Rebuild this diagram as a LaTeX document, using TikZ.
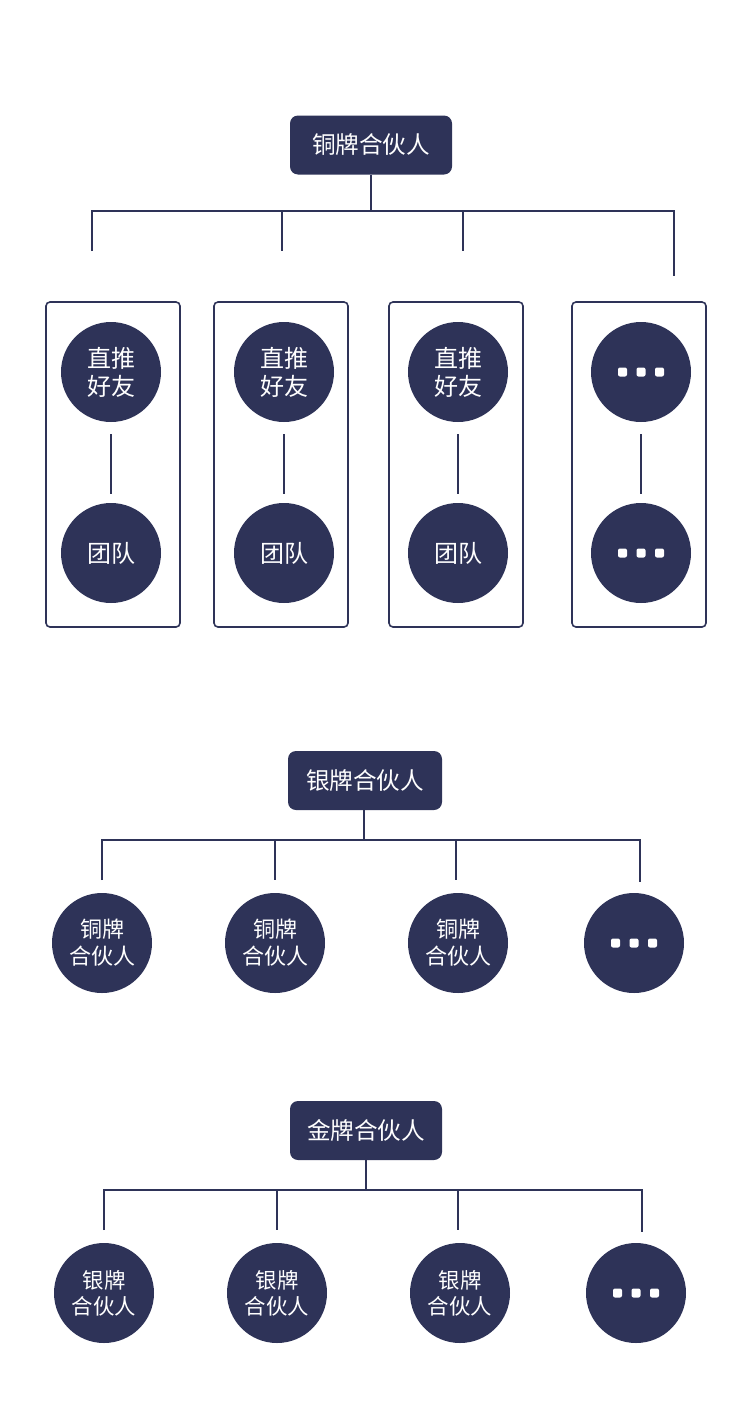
\documentclass[tikz,border=0pt]{standalone}
\usepackage{fontspec}
\newfontfamily\cjk{Noto Sans CJK SC}
\definecolor{navy}{HTML}{2E3358}
\tikzset{
  hdr/.style={fill=navy, rounded corners=8pt, text=white, inner sep=0pt,
    font=\cjk\fontsize{23.6}{28}\selectfont, minimum height=59pt},
  circ/.style={circle, fill=navy, minimum size=100pt, inner sep=0pt, text=white, align=center},
  big/.style={font=\cjk\fontsize{24}{28}\selectfont},
  mid/.style={font=\cjk\fontsize{22}{27}\selectfont},
  sml/.style={font=\cjk\fontsize{21.4}{26}\selectfont},
  conn/.style={draw=navy, line width=2pt},
  frm/.style={draw=navy, line width=1.6pt, rounded corners=4pt},
}
\newcommand\mydots[1]{%
  \foreach \dx in {-18.5,0,18.5}{%
    \fill[white, rounded corners=2pt] ([xshift=\dx pt-4.5pt, yshift=4.5pt]#1.center) rectangle ++(9,9);}}
\begin{document}
\begin{tikzpicture}[x=1pt,y=-1pt]
\useasboundingbox (0,0) rectangle (750,1411);
% ---------- section 1 ----------
\node[hdr, minimum width=162pt] (h1) at (371,145) {铜牌合伙人};
\coordinate (j1) at (371,211);
\coordinate (a1) at (92,211);  \coordinate (a1e) at (92,251);
\coordinate (a2) at (282,211); \coordinate (a2e) at (282,251);
\coordinate (a3) at (463,211); \coordinate (a3e) at (463,251);
\coordinate (a4) at (674,211); \coordinate (a4e) at (674,276);
\draw[conn] (h1.south) -- (j1);
\draw[conn] (a1e) -- (a1) -- (a4) -- (a4e);
\draw[conn] (a2) -- (a2e);
\draw[conn] (a3) -- (a3e);
\draw[frm] (46,302) rectangle (180,627);
\draw[frm] (214,302) rectangle (348,627);
\draw[frm] (389,302) rectangle (523,627);
\draw[frm] (572,302) rectangle (706,627);
\node[circ, big] (t1) at (111,372) {直推\\好友};
\node[circ, big] (t2) at (284,372) {直推\\好友};
\node[circ, big] (t3) at (458,372) {直推\\好友};
\node[circ] (t4) at (641,372) {};
\mydots{t4}
\node[circ, big] (m1) at (111,553) {团队};
\node[circ, big] (m2) at (284,553) {团队};
\node[circ, big] (m3) at (458,553) {团队};
\node[circ] (m4) at (641,553) {};
\mydots{m4}
\foreach \i in {1,2,3,4}{\draw[conn, shorten <=12pt, shorten >=9pt] (t\i) -- (m\i);}
% ---------- section 2 ----------
\node[hdr, minimum width=154pt] (h2) at (365,780.5) {银牌合伙人};
\coordinate (j2) at (364,840);
\coordinate (b1) at (102,840); \coordinate (b1e) at (102,880);
\coordinate (b2) at (275,840); \coordinate (b2e) at (275,880);
\coordinate (b3) at (456,840); \coordinate (b3e) at (456,880);
\coordinate (b4) at (640,840); \coordinate (b4e) at (640,882);
\draw[conn] (h2.south -| j2) -- (j2);
\draw[conn] (b1e) -- (b1) -- (b4) -- (b4e);
\draw[conn] (b2) -- (b2e);
\draw[conn] (b3) -- (b3e);
\node[circ, mid] (s1) at (102,943) {铜牌\\合伙人};
\node[circ, mid] (s2) at (275,943) {铜牌\\合伙人};
\node[circ, mid] (s3) at (458,943) {铜牌\\合伙人};
\node[circ] (s4) at (634,943) {};
\mydots{s4}
% ---------- section 3 ----------
\node[hdr, minimum width=152pt] (h3) at (366,1130.5) {金牌合伙人};
\coordinate (j3) at (366,1190);
\coordinate (c1) at (104,1190); \coordinate (c1e) at (104,1230);
\coordinate (c2) at (277,1190); \coordinate (c2e) at (277,1230);
\coordinate (c3) at (458,1190); \coordinate (c3e) at (458,1230);
\coordinate (c4) at (642,1190); \coordinate (c4e) at (642,1232);
\draw[conn] (h3.south) -- (j3);
\draw[conn] (c1e) -- (c1) -- (c4) -- (c4e);
\draw[conn] (c2) -- (c2e);
\draw[conn] (c3) -- (c3e);
\node[circ, sml] (g1) at (104,1293) {银牌\\合伙人};
\node[circ, sml] (g2) at (277,1293) {银牌\\合伙人};
\node[circ, sml] (g3) at (460,1293) {银牌\\合伙人};
\node[circ] (g4) at (636,1293) {};
\mydots{g4}
\end{tikzpicture}
\end{document}
